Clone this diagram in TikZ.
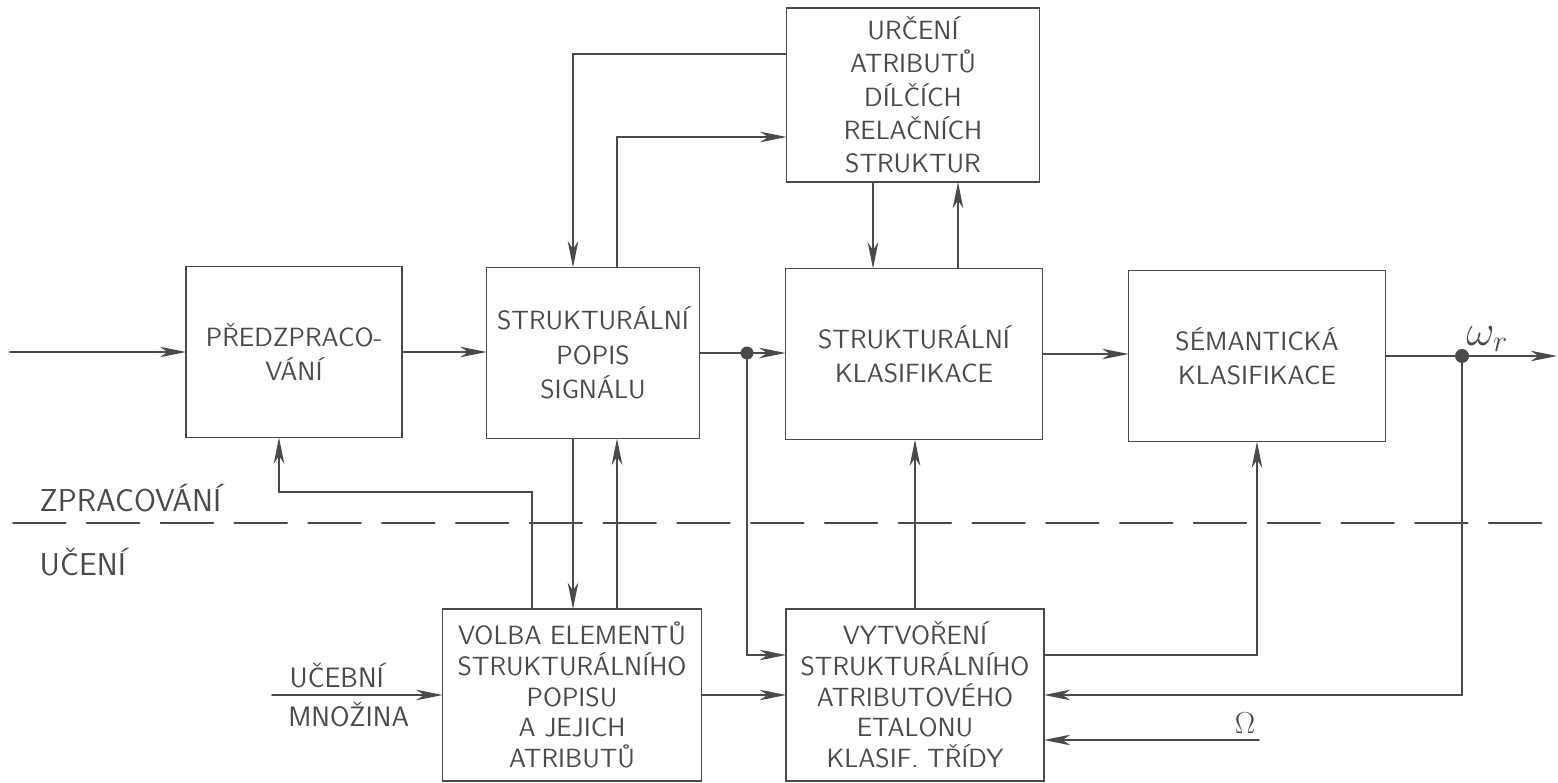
\documentclass[tikz,border=0pt]{standalone}
\usepackage{fontspec}
\usepackage{amsmath}
\usetikzlibrary{arrows.meta}
\usetikzlibrary{calc}
\definecolor{tuzka}{HTML}{4A4A4A}

\begin{document}
\begin{tikzpicture}[x=0.02cm,y=-0.02cm,line width=1pt,color=tuzka,line cap=round,
  >={Stealth[length=15pt,width=6pt,inset=4.5pt]},
  blok/.style={draw,inner sep=0pt,outer sep=0pt,align=center,minimum height=3.42cm,
    font=\sffamily\fontsize{15}{19.5}\selectfont},
  husty/.style={font=\sffamily\fontsize{15}{17.5}\selectfont},
  popisek/.style={font=\sffamily\fontsize{16}{18}\selectfont}]
\useasboundingbox (0,0) rectangle (1558,783);
% bloky
\node[blok,minimum width=4.32cm] (pred) at (294,352) {PŘEDZPRACO-\\VÁNÍ};
\node[blok,minimum width=4.26cm] (popis) at (593,353) {STRUKTURÁLNÍ\\POPIS\\SIGNÁLU};
\node[blok,minimum width=5.14cm] (klas) at (914,354) {STRUKTURÁLNÍ\\KLASIFIKACE};
\node[blok,minimum width=5.14cm] (sem) at (1257,356) {SÉMANTICKÁ\\KLASIFIKACE};
\node[blok,minimum width=5.06cm,minimum height=3.48cm,
  font=\sffamily\fontsize{15}{19}\selectfont] (urc) at (913,95)
  {URČENÍ\\ATRIBUTŮ\\DÍLČÍCH\\RELAČNÍCH\\STRUKTUR};
\node[blok,husty,minimum width=5.18cm,minimum height=3.44cm] (volba) at (572,695)
  {VOLBA ELEMENTŮ\\STRUKTURÁLNÍHO\\POPISU\\A JEJICH\\ATRIBUTŮ};
\node[blok,husty,minimum width=5.16cm,minimum height=3.44cm] (vytv) at (915,695)
  {VYTVOŘENÍ\\STRUKTURÁLNÍHO\\ATRIBUTOVÉHO\\ETALONU\\KLASIF. TŘÍDY};
% body a sloupce
\coordinate (vstup) at (10,352);
\coordinate (uzel) at (747,353);
\coordinate (wr) at (1462,356);
\coordinate (vystup) at (1557,356);
\coordinate (omega) at (1259,740);
\coordinate (ucebni) at (272,695);
\coordinate (zpet) at (279,492);
\coordinate (dolu) at (573,0);
\coordinate (nahoru) at (617,0);
\coordinate (zvolby) at (532,0);
\coordinate (kurc) at (873,0);
\coordinate (zklas) at (958,0);
% hlavni vetev
\draw[->] (vstup) -- (vstup -| pred.west);
\draw[->] (pred.east) -- (pred.east -| popis.west);
\draw (popis.east) -- (uzel);
\draw[->] (uzel) -- (uzel -| klas.west);
\draw[->] (klas.east) -- (klas.east -| sem.west);
\draw[->] (sem.east) -- (vystup);
\fill (uzel) circle (0.13cm);
\fill (wr) circle (0.14cm);
\node[above right,inner sep=2pt,font=\fontsize{26}{30}\selectfont] (wlab) at (wr) {$\omega_r$};
% horni blok
\draw[->] ([yshift=0.82cm]urc.west) -| (dolu |- popis.north);
\draw[->] (nahoru |- popis.north) |- ([yshift=-0.84cm]urc.west);
\draw[->] (kurc |- urc.south) -- (kurc |- klas.north);
\draw[->] (zklas |- klas.north) -- (zklas |- urc.south);
% uceni
\draw[->] (dolu |- popis.south) -- (dolu |- volba.north);
\draw[->] (nahoru |- volba.north) -- (nahoru |- popis.south);
\draw[->] (zvolby |- volba.north) |- (zpet) -- (zpet |- pred.south);
\draw[->] (uzel) |- ([yshift=0.8cm]vytv.west);
\draw[->] (volba.east) -- (vytv.west);
\draw[->] (vytv.north) -- (vytv.north |- klas.south);
\draw[->] ([yshift=0.8cm]vytv.east) -| (sem.south);
\draw[->] (wr) |- (vytv.east);
\draw[->] (omega) node[above,xshift=-0.28cm,inner sep=3pt,font=\fontsize{18}{20}\selectfont] (om) {$\Omega$}
  -- (omega -| vytv.east);
\draw[->] (ucebni) -- node[pos=0.38,above,popisek] (ulab) {UČEBNÍ}
  node[pos=0.45,below,popisek] (mlab) {MNOŽINA} (volba.west);
% hranice zpracovani / uceni
\draw[dash pattern=on 30pt off 12pt] (13,523) -- (1558,523);
\node[popisek,font=\sffamily\fontsize{18}{20}\selectfont,anchor=west] (zprac) at (33,498) {ZPRACOVÁNÍ};
\node[popisek,font=\sffamily\fontsize{18}{20}\selectfont,anchor=west] (uc) at (33,562) {UČENÍ};
\end{tikzpicture}
\end{document}
